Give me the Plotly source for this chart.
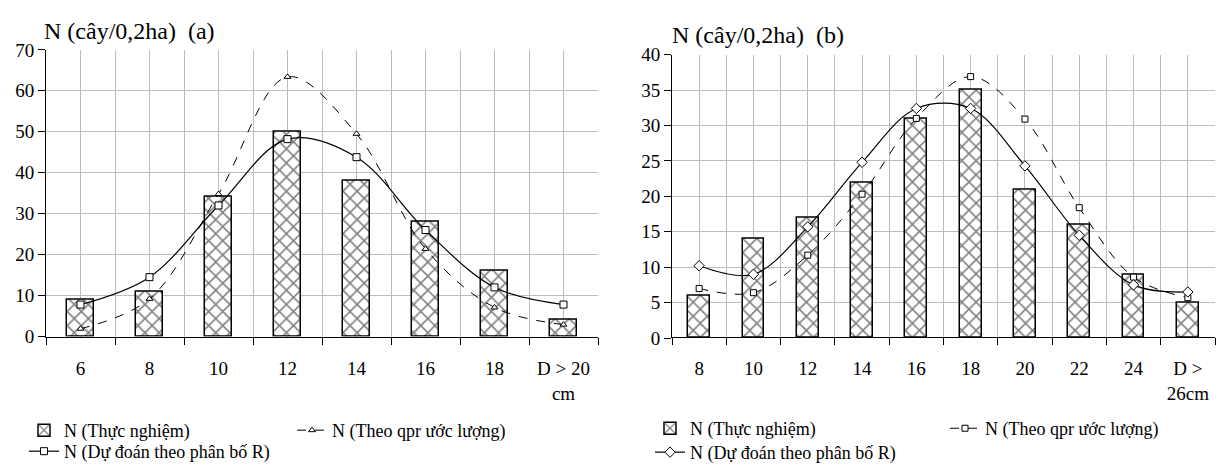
import plotly.graph_objects as go

# ---------------- data ----------------
cats_a = ["6", "8", "10", "12", "14", "16", "18", "D > 20<br>cm"]
obs_a = [9, 11, 34, 50, 38, 28, 16, 4]
qpr_a = [1.9, 9.2, 34.8, 63.4, 49.5, 21.4, 7.1, 2.9]
rdist_a = [7.8, 14.5, 32.0, 48.2, 43.8, 26.0, 12.0, 7.8]

cats_b = ["8", "10", "12", "14", "16", "18", "20", "22", "24", "D ><br>26cm"]
obs_b = [6, 14, 17, 22, 31, 35, 21, 16, 9, 5]
qpr_b = [7.0, 6.4, 11.7, 20.3, 31.0, 36.9, 30.9, 18.4, 8.6, 5.7]
rdist_b = [10.2, 9.0, 15.7, 24.8, 32.4, 32.4, 24.3, 14.5, 7.5, 6.5]

y_ticks_a = [0, 10, 20, 30, 40, 50, 60, 70]
y_ticks_b = [0, 5, 10, 15, 20, 25, 30, 35, 40]

name_obs = "N (Thực nghiệm)"
name_qpr = "N (Theo qpr ước lượng)"
name_r = "N (Dự đoán theo phân bố R)"
title_a = "N (cây/0,2ha)\u00a0\u00a0(a)"
title_b = "N (cây/0,2ha)\u00a0\u00a0(b)"

# ---------------- styling ----------------
W, H = 1218, 473
FONT = "Liberation Serif, Times New Roman, serif"
GRID = "#bdbdbd"
TICK_SIZE = 19
LEG_SIZE = 18
TITLE_SIZE = 24


def xdom(l, r):
    return [l / W, r / W]


def ydom(top, bottom):
    return [1 - bottom / H, 1 - top / H]


bar_marker = dict(
    color="white",
    line=dict(color="black", width=1.5),
    pattern=dict(shape="x", fgcolor="black", bgcolor="white", size=10, solidity=0.28),
)

fig = go.Figure()

xa = list(range(len(cats_a)))
xb = list(range(len(cats_b)))

# chart (a)
fig.add_trace(go.Bar(x=xa, y=obs_a, width=0.39, marker=bar_marker, name=name_obs,
                     legend="legend", xaxis="x", yaxis="y"))
fig.add_trace(go.Scatter(x=xa, y=qpr_a, mode="lines+markers", name=name_qpr,
                         line=dict(color="black", width=1, dash="dash", shape="spline"),
                         marker=dict(symbol="triangle-up", size=6, color="white",
                                     line=dict(color="black", width=1)),
                         legend="legend2", xaxis="x", yaxis="y"))
fig.add_trace(go.Scatter(x=xa, y=rdist_a, mode="lines+markers", name=name_r,
                         line=dict(color="black", width=1.2, shape="spline"),
                         marker=dict(symbol="square", size=7, color="white",
                                     line=dict(color="black", width=1)),
                         legend="legend3", xaxis="x", yaxis="y"))

# chart (b)
fig.add_trace(go.Bar(x=xb, y=obs_b, width=0.40, marker=bar_marker, name=name_obs,
                     legend="legend4", xaxis="x2", yaxis="y2"))
fig.add_trace(go.Scatter(x=xb, y=qpr_b, mode="lines+markers", name=name_qpr,
                         line=dict(color="black", width=1, dash="dash", shape="spline"),
                         marker=dict(symbol="square", size=6, color="white",
                                     line=dict(color="black", width=1)),
                         legend="legend5", xaxis="x2", yaxis="y2"))
fig.add_trace(go.Scatter(x=xb, y=rdist_b, mode="lines+markers", name=name_r,
                         line=dict(color="black", width=1.2, shape="spline"),
                         marker=dict(symbol="diamond", size=8, color="white",
                                     line=dict(color="black", width=1)),
                         legend="legend6", xaxis="x2", yaxis="y2"))


def xaxis_cfg(cats, dom):
    return dict(
        domain=dom, type="linear", range=[-0.5, len(cats) - 0.5],
        tickmode="array", tickvals=list(range(len(cats))), ticktext=cats,
        ticks="", showline=True, linecolor="black", linewidth=1,
        showgrid=True, gridcolor=GRID, gridwidth=1, zeroline=False,
        tickfont=dict(family=FONT, size=TICK_SIZE, color="black"), ticklabelstandoff=15,
        minor=dict(tickmode="linear", tick0=0.5, dtick=1, ticks="outside", ticklen=7,
                   tickcolor="black", tickwidth=1, showgrid=True, gridcolor=GRID, gridwidth=1),
        fixedrange=True,
    )


def yaxis_cfg(ticks, dom, anchor):
    return dict(
        domain=dom, range=[ticks[0], ticks[-1]], tickmode="array", tickvals=ticks,
        ticks="outside", ticklen=7, tickcolor="black", showline=True, linecolor="black",
        linewidth=1, showgrid=True, gridcolor=GRID, gridwidth=1, zeroline=False,
        tickfont=dict(family=FONT, size=TICK_SIZE, color="black"), anchor=anchor,
        fixedrange=True,
    )


def legend_cfg(x_px, y_px):
    return dict(x=x_px / W, y=1 - y_px / H, xanchor="left", yanchor="middle",
                xref="paper", yref="paper", orientation="h", itemwidth=30,
                bgcolor="rgba(0,0,0,0)", borderwidth=0, visible=True,
                font=dict(family=FONT, size=LEG_SIZE, color="black"))


fig.update_layout(
    width=W, height=H, margin=dict(l=0, r=0, t=0, b=0),
    paper_bgcolor="white", plot_bgcolor="white",
    font=dict(family=FONT, color="black"),
    showlegend=True,
    bargap=0, barmode="overlay",
    xaxis=xaxis_cfg(cats_a, xdom(46, 598)),
    yaxis=yaxis_cfg(y_ticks_a, ydom(41.7, 341.7), "x"),
    xaxis2=xaxis_cfg(cats_b, xdom(672, 1215)),
    yaxis2=yaxis_cfg(y_ticks_b, ydom(46.7, 343.3), "x2"),
    legend=legend_cfg(24, 440),
    legend2=legend_cfg(292, 440),
    legend3=legend_cfg(24, 462),
    legend4=legend_cfg(650, 438),
    legend5=legend_cfg(945, 438),
    legend6=legend_cfg(650, 463),
    annotations=[
        dict(text=title_a, x=42 / W, y=1 - 22 / H, xref="paper", yref="paper",
             xanchor="left", yanchor="middle", showarrow=False,
             font=dict(family=FONT, size=TITLE_SIZE, color="black")),
        dict(text=title_b, x=670 / W, y=1 - 26 / H, xref="paper", yref="paper",
             xanchor="left", yanchor="middle", showarrow=False,
             font=dict(family=FONT, size=TITLE_SIZE, color="black")),
    ],
)

fig.write_html("out.html")
